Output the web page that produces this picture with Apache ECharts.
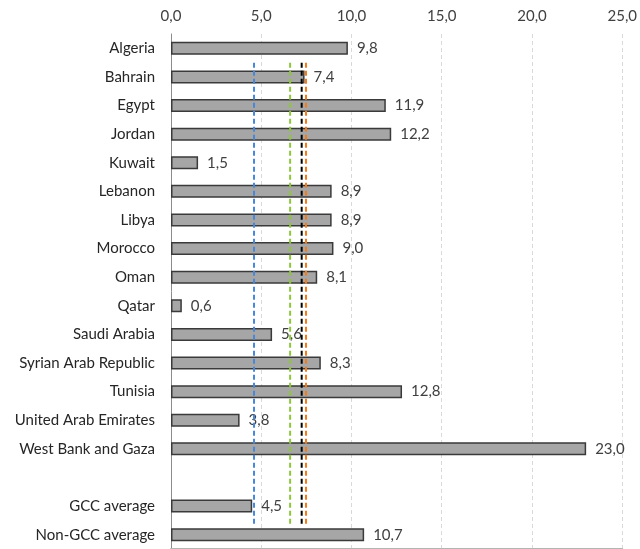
<!DOCTYPE html>
<html>
<head>
<meta charset="utf-8">
<script src="https://cdn.jsdelivr.net/npm/echarts@6/dist/echarts.min.js"></script>
<style>
  html, body { margin: 0; padding: 0; background: #fff; }
  #chart { width: 640px; height: 549px; }
</style>
</head>
<body>
<div id="chart"></div>
<script>
// Countries (top to bottom), an empty spacer row, then the two group averages
const categories = [
  'Algeria', 'Bahrain', 'Egypt', 'Jordan', 'Kuwait', 'Lebanon', 'Libya',
  'Morocco', 'Oman', 'Qatar', 'Saudi Arabia', 'Syrian Arab Republic',
  'Tunisia', 'United Arab Emirates', 'West Bank and Gaza', '',
  'GCC average', 'Non-GCC average'
];
const values = [
  9.8, 7.4, 11.9, 12.2, 1.5, 8.9, 8.9,
  9.0, 8.1, 0.6, 5.6, 8.3,
  12.8, 3.8, 23.0, null,
  4.5, 10.7
];
// Vertical dashed reference levels
const refLevels = [4.6, 6.6, 7.24, 7.48];
const refColors = ['#4a86d6', '#8cc63f', '#000000', '#f07d1e'];
// Vertical extent of the reference lines on a hidden 0..1 axis
const refSpan = [0.049, 0.95];
const xTicks = { min: 0, max: 25, interval: 5 };

const fmt = v => v.toFixed(1).replace('.', ',');
const font = 'Lato, "Open Sans", sans-serif';

const refSeries = refLevels.map((lv, i) => ({
  type: 'line',
  yAxisIndex: 1,
  data: [[lv, refSpan[0]], [lv, refSpan[1]]],
  symbol: 'none',
  silent: true,
  z: 5,
  lineStyle: { color: refColors[i], width: 2, type: [5, 3] }
}));

const chart = echarts.init(document.getElementById('chart'), null, { renderer: 'canvas' });
chart.setOption({
  animation: false,
  grid: { left: 171, right: 15, top: 34, bottom: 0, containLabel: false },
  xAxis: {
    type: 'value',
    position: 'top',
    min: xTicks.min, max: xTicks.max, interval: xTicks.interval,
    axisLine: { show: true, lineStyle: { color: '#b4b4b4', width: 2 } },
    axisTick: { show: true, inside: true, length: 5, lineStyle: { color: '#b4b4b4' } },
    axisLabel: { formatter: fmt, color: '#404040', fontSize: 15, fontFamily: font, margin: 10 },
    splitLine: { show: true, lineStyle: { color: '#d9d9d9', type: [4, 3], width: 1 } }
  },
  yAxis: [
    {
      type: 'category',
      data: categories,
      inverse: true,
      axisLine: { show: true, lineStyle: { color: '#8c8c8c', width: 1 } },
      axisTick: { show: false },
      axisLabel: { color: '#262626', fontSize: 15, fontFamily: font, margin: 16 },
      splitLine: { show: false }
    },
    {
      type: 'value',
      min: 0, max: 1,
      show: false,
      splitLine: { show: false }
    }
  ],
  series: [
    {
      type: 'bar',
      data: values,
      barWidth: 13,
      z: 2,
      itemStyle: { color: '#a6a6a6', borderColor: '#3a3a3a', borderWidth: 1.5 },
      label: {
        show: true,
        position: 'right',
        distance: 9,
        formatter: p => (p.value == null ? '' : fmt(p.value)),
        color: '#404040',
        fontSize: 15,
        fontFamily: font
      }
    },
    ...refSeries
  ]
});
</script>
</body>
</html>
